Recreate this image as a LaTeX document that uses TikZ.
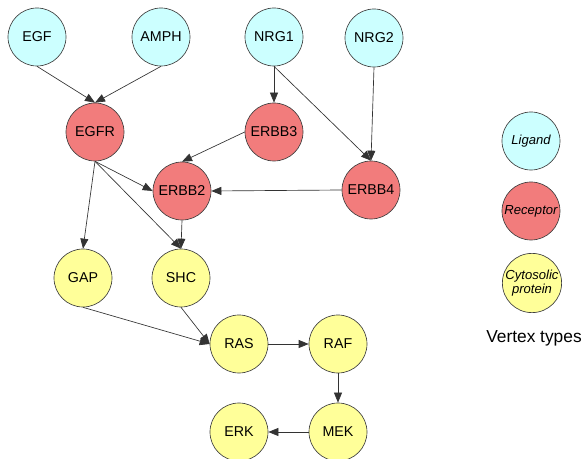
\documentclass[tikz,border=0pt]{standalone}
\usepackage{fontspec}
\setmainfont{Liberation Sans}
\usetikzlibrary{arrows.meta,positioning}

\definecolor{ligandc}{RGB}{204,255,255}
\definecolor{receptorc}{RGB}{242,124,124}
\definecolor{cytoc}{RGB}{255,255,153}

\begin{document}
\begin{tikzpicture}[x=0.75pt, y=-0.75pt,
	every node/.style={font=\fontsize{10.7}{12}\selectfont},
	vertex/.style={circle, draw=black!75, line width=0.5pt, minimum size=43.5pt, inner sep=0pt, align=center},
	ligand/.style={vertex, fill=ligandc},
	receptor/.style={vertex, fill=receptorc},
	cyto/.style={vertex, fill=cytoc},
	legendtext/.style={font=\fontsize{9.8}{10.8}\selectfont\itshape},
	edge/.style={-{Triangle[length=7.5pt,width=6pt]}, draw=black!80, line width=0.5pt}]
	\useasboundingbox (0,0) rectangle (587,459);

	% ligands
	\node[ligand] (egf) at (37,37) {EGF};
	\node[ligand] (amph) at (161,37) {AMPH};
	\node[ligand] (nrg1) at (274,37) {NRG1};
	\node[ligand] (nrg2) at (374,38) {NRG2};

	% receptors
	\node[receptor] (egfr) at (95,132) {EGFR};
	\node[receptor] (erbb3) at (274,132) {ERBB3};
	\node[receptor] (erbb2) at (182,191) {ERBB2};
	\node[receptor] (erbb4) at (371,190) {ERBB4};

	% cytosolic proteins
	\node[cyto] (gap) at (83,278) {GAP};
	\node[cyto] (shc) at (181,278) {SHC};
	\node[cyto] (ras) at (239,344) {RAS};
	\node[cyto] (raf) at (338,344) {RAF};
	\node[cyto] (erk) at (239,432) {ERK};
	\node[cyto] (mek) at (338,432) {MEK};

	% legend
	\node[ligand, legendtext] (lig) at (531,141) {Ligand};
	\node[receptor, legendtext] (rec) at (531,211) {Receptor};
	\node[cyto, legendtext] (cyt) at (532,283) {Cytosolic\\protein};
	\node[font=\fontsize{13}{15}\selectfont] (vtypes) at (534,338) {Vertex types};

	% interactions
	\draw[edge] (egf.south) -- (egfr.north);
	\draw[edge] (amph.south) -- (egfr.north);
	\draw[edge] (nrg1.south) -- (erbb3.north);
	\draw[edge] (nrg1.south) -- (erbb4.north);
	\draw[edge] (nrg2.south) -- (erbb4.north);
	\draw[edge] (erbb3.west) -- (erbb2.north);
	\draw[edge] (egfr.south) -- (erbb2.west);
	\draw[edge] (erbb4.west) -- (erbb2.east);
	\draw[edge] (egfr.south) -- (gap.north);
	\draw[edge] (egfr.south) -- (shc.north);
	\draw[edge] (erbb2.south) -- (shc.north);
	\draw[edge] (gap.south) -- (ras.west);
	\draw[edge] (shc.south) -- (ras.west);
	\draw[edge] (ras.east) -- (raf.west);
	\draw[edge] (raf.south) -- (mek.north);
	\draw[edge] (mek.west) -- (erk.east);
\end{tikzpicture}
\end{document}
